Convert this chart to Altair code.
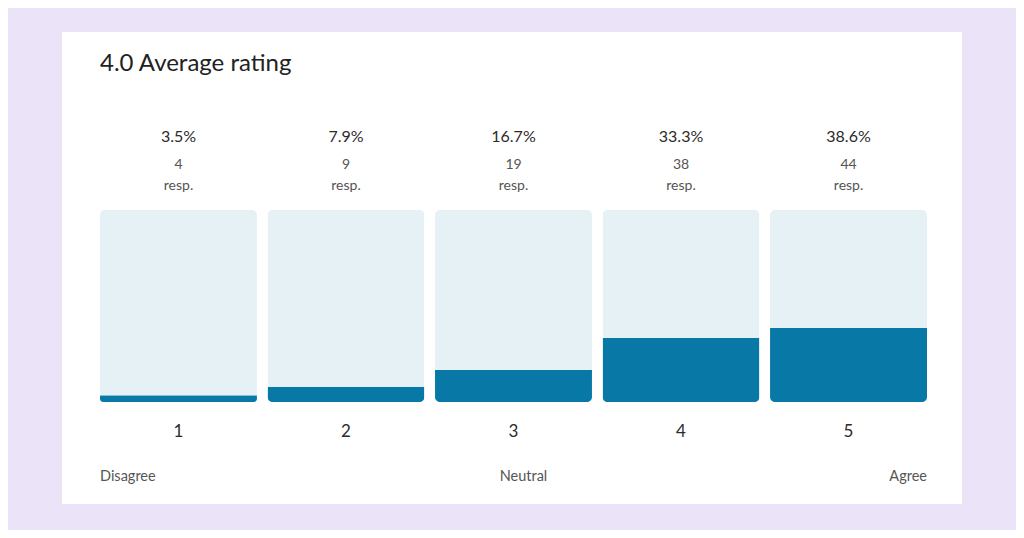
import altair as alt
import pandas as pd

ratings = ["1", "2", "3", "4", "5"]
percents = [3.5, 7.9, 16.7, 33.3, 38.6]
counts = [4, 9, 19, 38, 44]
full = [100, 100, 100, 100, 100]
scale_labels = ["Disagree", "Neutral", "Agree"]
scale_at = ["1", "3", "5"]
title_text = "4.0 Average rating"

df = pd.DataFrame({"rating": ratings, "pct": percents, "count": counts, "full": full})
df["pct_label"] = [f"{p:.1f}%" for p in percents]
df["count_label"] = [str(c) for c in counts]
df["resp"] = "resp."

ends = pd.DataFrame({"rating": scale_at, "label": scale_labels})

FONT = "Lato"
DARK = "#2b2b2b"
MID = "#555555"

xs = alt.Scale(domain=ratings, range=[38, 865], paddingInner=0.063, paddingOuter=0)
ys = alt.Scale(domain=[0, 100], range=[370, 178])

X = alt.X("rating:N", scale=xs, axis=None)

base = alt.Chart(df)

bg = base.mark_bar(cornerRadius=5, color="#E6F1F5").encode(
    x=X, y=alt.Y("full:Q", scale=ys, axis=None)
)
fill = base.mark_bar(cornerRadiusBottomLeft=5, cornerRadiusBottomRight=5, color="#0879A6").encode(
    x=X, y=alt.Y("pct:Q", scale=ys, axis=None)
)
pct_t = base.mark_text(font=FONT, fontSize=16, color=DARK, baseline="middle").encode(
    x=X, y=alt.value(105), text="pct_label:N"
)
cnt_t = base.mark_text(font=FONT, fontSize=14, color=MID, baseline="middle").encode(
    x=X, y=alt.value(133), text="count_label:N"
)
resp_t = base.mark_text(font=FONT, fontSize=14, color=MID, baseline="middle").encode(
    x=X, y=alt.value(154), text="resp:N"
)
cat_t = base.mark_text(font=FONT, fontSize=17, color=DARK, baseline="middle").encode(
    x=X, y=alt.value(400), text="rating:N"
)

ec = alt.Chart(ends)
dis = ec.transform_filter(alt.datum.rating == "1").mark_text(
    font=FONT, fontSize=14.5, color=MID, align="left", baseline="middle"
).encode(x=alt.X("rating:N", scale=xs, axis=None, bandPosition=0), y=alt.value(445), text="label:N")
neu = ec.transform_filter(alt.datum.rating == "3").mark_text(
    font=FONT, fontSize=14.5, color=MID, align="center", baseline="middle", dx=10
).encode(x=X, y=alt.value(445), text="label:N")
agr = ec.transform_filter(alt.datum.rating == "5").mark_text(
    font=FONT, fontSize=14.5, color=MID, align="right", baseline="middle"
).encode(x=alt.X("rating:N", scale=xs, axis=None, bandPosition=1), y=alt.value(445), text="label:N")

chart = alt.layer(bg, fill, pct_t, cnt_t, resp_t, cat_t, dis, neu, agr).properties(
    width=900,
    height=472,
    padding={"left": 54, "top": 24, "right": 54, "bottom": 26},
    autosize=alt.AutoSizeParams(type="none"),
    background="#EBE3F8",
    title=alt.TitleParams(
        title_text, anchor="start", frame="group", orient="top", offset=-63, dx=38,
        font=FONT, fontSize=24, fontWeight="normal", color="#222222", baseline="alphabetic",
    ),
).configure_view(fill="white", stroke=None, strokeWidth=0)

chart.save("out.html", embed_options={"renderer": "svg", "actions": False})
